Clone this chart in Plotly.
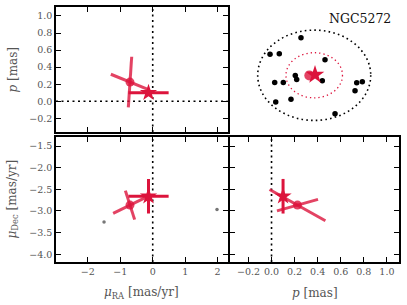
import plotly.graph_objects as go

# ---------------- data ----------------
# reference (star) estimate with 1-sigma errors
star_mu_ra, star_mu_ra_err = -0.13, 0.62
star_mu_dec, star_mu_dec_err = -2.66, 0.40
star_p, star_p_err = 0.10, 0.02

# second (circle) estimate and half-axes of its error cross in each projection
circ_mu_ra = -0.70
circ_mu_dec = -2.865
circ_p = 0.225
cross_ra_p = [[0.59, -0.092], [0.052, 0.297]]
cross_ra_dec = [[0.52, 0.19], [0.143, -0.335]]
cross_p_dec = [[0.242, -0.362], [0.178, 0.133]]

# other objects in proper-motion space
other_mu_ra = [-1.50, 1.98]
other_mu_dec = [-3.255, -2.965]

# sky field (relative coordinates)
field_x = [-0.234, -0.782, -0.618, 0.191, -0.335, -0.310, -0.699, -0.547,
           0.143, 0.752, 0.851, 0.722, -0.411, -0.681, 0.368]
field_y = [0.831, 0.464, 0.479, 0.341, -0.004, -0.092, -0.158, -0.158,
           -0.121, -0.165, -0.143, -0.341, -0.532, -0.591, -0.855]
field_circ_x, field_circ_y = -0.087, -0.004
field_star_x, field_star_y = 0.014, 0.011
outer_radius = 1.0
inner_radius = 0.5

cluster_name = "NGC5272"

# ---------------- styling ----------------
RED = "#dc143c"
RED_A = "rgba(220,20,60,0.8)"
GREY = "#555555"
FONT = "DejaVu Serif"


def cross(cx, cy, axes):
    xs, ys = [], []
    for ax, ay in axes:
        xs += [cx - ax, cx + ax, None]
        ys += [cy - ay, cy + ay, None]
    return xs, ys


fig = go.Figure()


def add_panel(xa, ya, cx, cy, axes, sx, sy, sex, sey):
    xs, ys = cross(cx, cy, axes)
    fig.add_trace(go.Scatter(x=xs, y=ys, mode="lines", line=dict(color=RED_A, width=3),
                             xaxis=xa, yaxis=ya, hoverinfo="skip"))
    fig.add_trace(go.Scatter(x=[cx], y=[cy], mode="markers",
                             marker=dict(symbol="circle", size=9, color=RED_A),
                             xaxis=xa, yaxis=ya))
    fig.add_trace(go.Scatter(x=[sx], y=[sy], mode="markers",
                             marker=dict(symbol="star", size=13, color=RED, line=dict(width=0)),
                             error_x=dict(type="data", array=[sex], color=RED, thickness=3, width=0),
                             error_y=dict(type="data", array=[sey], color=RED, thickness=3, width=0),
                             xaxis=xa, yaxis=ya))


# top-left: mu_RA vs p
add_panel("x", "y", circ_mu_ra, circ_p, cross_ra_p, star_mu_ra, star_p, star_mu_ra_err, star_p_err)
# bottom-left: mu_RA vs mu_Dec
fig.add_trace(go.Scatter(x=other_mu_ra, y=other_mu_dec, mode="markers",
                         marker=dict(size=3.5, color="#777777"), xaxis="x2", yaxis="y2"))
add_panel("x2", "y2", circ_mu_ra, circ_mu_dec, cross_ra_dec, star_mu_ra, star_mu_dec,
          star_mu_ra_err, star_mu_dec_err)
# bottom-right: p vs mu_Dec
add_panel("x3", "y3", circ_p, circ_mu_dec, cross_p_dec, star_p, star_mu_dec,
          star_p_err, star_mu_dec_err)

# top-right: sky field
fig.add_trace(go.Scatter(x=field_x, y=field_y, mode="markers",
                         marker=dict(size=5.5, color="black"), xaxis="x4", yaxis="y4"))
fig.add_trace(go.Scatter(x=[field_circ_x], y=[field_circ_y], mode="markers",
                         marker=dict(size=10, color=RED_A), xaxis="x4", yaxis="y4"))
fig.add_trace(go.Scatter(x=[field_star_x], y=[field_star_y], mode="markers",
                         marker=dict(symbol="star", size=14, color=RED, line=dict(width=0)),
                         xaxis="x4", yaxis="y4"))

shapes = [
    dict(type="circle", xref="x4", yref="y4", x0=-outer_radius, x1=outer_radius,
         y0=-outer_radius, y1=outer_radius, line=dict(color="black", width=1.6, dash="1.6px,3.2px")),
    dict(type="circle", xref="x4", yref="y4", x0=-inner_radius, x1=inner_radius,
         y0=-inner_radius, y1=inner_radius, line=dict(color=RED, width=1.3, dash="1.3px,3px")),
    dict(type="line", xref="x", yref="y domain", x0=0, x1=0, y0=0, y1=1,
         line=dict(color="black", width=1.6, dash="2px,3.5px"), layer="below"),
    dict(type="line", xref="x domain", yref="y", x0=0, x1=1, y0=0, y1=0,
         line=dict(color="black", width=1.6, dash="2px,3.5px"), layer="below"),
    dict(type="line", xref="x2", yref="y2 domain", x0=0, x1=0, y0=0, y1=1,
         line=dict(color="black", width=1.6, dash="2px,3.5px"), layer="below"),
    dict(type="line", xref="x3", yref="y3 domain", x0=0, x1=0, y0=0, y1=1,
         line=dict(color="black", width=1.6, dash="2px,3.5px"), layer="below"),
]

W, H = 407, 305
ML, MR, MT, MB = 56, 8, 5, 43
PW, PH = W - ML - MR, H - MT - MB
xl = [0, (227.7 - ML) / PW]
xr = [(230 - ML) / PW, 1]
yt = [(262 - 131) / PH, 1]
yb = [0, (262 - 136) / PH]

common = dict(showline=True, linecolor="black", linewidth=1.6, mirror="allticks",
              ticks="inside", ticklen=5, tickwidth=1, tickcolor="black",
              showgrid=False, zeroline=False,
              tickfont=dict(family=FONT, size=9.5, color=GREY))

mu_ra_range = [-2.98, 2.31]
p_range = [-0.36, 1.105]
mu_dec_range = [-4.18, -1.29]

fig.update_layout(
    width=W, height=H, margin=dict(l=ML, r=MR, t=MT, b=MB),
    paper_bgcolor="white", plot_bgcolor="white", showlegend=False,
    xaxis=dict(domain=xl, anchor="y", range=mu_ra_range, dtick=1, showticklabels=False, **common),
    yaxis=dict(domain=yt, anchor="x", range=p_range, dtick=0.2, tickformat=".1f", **common),
    xaxis2=dict(domain=xl, anchor="y2", range=mu_ra_range, dtick=1, **common),
    yaxis2=dict(domain=yb, anchor="x2", range=mu_dec_range, dtick=0.5, tickformat=".1f", **common),
    xaxis3=dict(domain=xr, anchor="y3", range=p_range, dtick=0.2, tickformat=".1f", **common),
    yaxis3=dict(domain=yb, anchor="x3", range=mu_dec_range, dtick=0.5, showticklabels=False, **common),
    xaxis4=dict(domain=xr, anchor="y4", range=[-1.49, 1.50], visible=False),
    yaxis4=dict(domain=yt, anchor="x4", range=[-1.257, 1.512], visible=False),
    shapes=shapes,
)

tfont = dict(family=FONT, size=12, color=GREY)
annotations = [
    dict(text="<i>p</i> [mas]", xref="paper", yref="paper", x=0, y=sum(yt) / 2,
         xshift=13 - ML, textangle=-90, showarrow=False, font=tfont, xanchor="center", yanchor="middle"),
    dict(text="<i>μ</i><sub>Dec</sub> [mas/yr]", xref="paper", yref="paper", x=0, y=sum(yb) / 2,
         xshift=13 - ML, textangle=-90, showarrow=False, font=tfont, xanchor="center", yanchor="middle"),
    dict(text="<i>μ</i><sub>RA</sub> [mas/yr]", xref="paper", yref="paper", x=sum(xl) / 2, y=0,
         yshift=-31, showarrow=False, font=tfont, xanchor="center", yanchor="middle"),
    dict(text="<i>p</i> [mas]", xref="paper", yref="paper", x=sum(xr) / 2, y=0,
         yshift=-31, showarrow=False, font=tfont, xanchor="center", yanchor="middle"),
    dict(text=cluster_name, xref="paper", yref="paper", x=(393 - ML) / PW, y=(262 - 16.7) / PH,
         showarrow=False, font=dict(family=FONT, size=12.5, color="#111111"),
         xanchor="right", yanchor="middle"),
]
fig.update_layout(annotations=annotations)

fig.write_html("out.html", config={"displayModeBar": False},
               post_script="document.body.style.margin='0';document.body.style.overflow='hidden';")
